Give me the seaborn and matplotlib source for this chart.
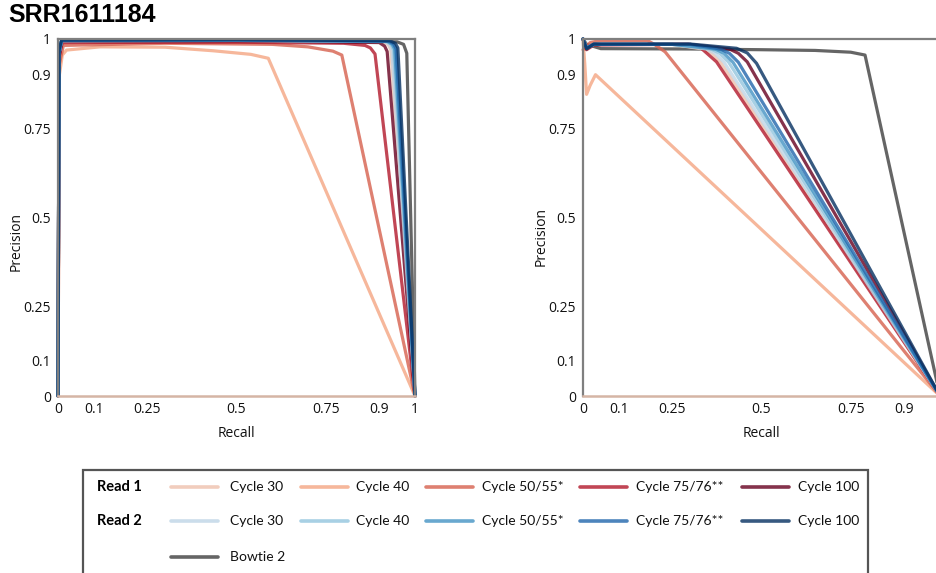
import matplotlib
matplotlib.use("Agg")
import matplotlib.pyplot as plt
from matplotlib.lines import Line2D
from matplotlib.patches import Rectangle
import seaborn as sns
import pandas as pd

sns.set_theme(style="white")
plt.rcParams["font.family"] = ["Open Sans", "DejaVu Sans"]

# ---------------- data ----------------
series_names = ["Bowtie 2",
                "R1 Cycle 30", "R1 Cycle 40", "R1 Cycle 50/55*", "R1 Cycle 75/76**", "R1 Cycle 100",
                "R2 Cycle 30", "R2 Cycle 40", "R2 Cycle 50/55*", "R2 Cycle 75/76**", "R2 Cycle 100"]
series_colors = ["#3f3f3f",
                 "#eec1ad", "#f4a582", "#d6604d", "#b2182b", "#67001f",
                 "#bfd5e6", "#92c5de", "#4393c3", "#2166ac", "#053061"]

ticks = [0, 0.1, 0.25, 0.5, 0.75, 0.9, 1]
tick_labels = ["0", "0.1", "0.25", "0.5", "0.75", "0.9", "1"]
right_x_tick_labels = ["0", "0.1", "0.25", "0.5", "0.75", "0.9", ""]

# Left panel (recall, precision)
left_bowtie_r = [0, 0.003, 0.01, 0.5, 0.95, 0.968, 0.977, 1.0]
left_bowtie_p = [0, 0.95, 0.994, 0.996, 0.992, 0.985, 0.96, 0]
left_r1c30_r = [0, 0.003, 0.01, 0.5, 0.91, 0.925, 0.932, 1.0]
left_r1c30_p = [0, 0.95, 0.993, 0.995, 0.993, 0.985, 0.97, 0]
left_r1c40_r = [0, 0.004, 0.012, 0.024, 0.118, 0.3, 0.435, 0.54, 0.589, 1.0]
left_r1c40_p = [0, 0.9, 0.955, 0.969, 0.978, 0.977, 0.967, 0.957, 0.946, 0]
left_r1c50_r = [0, 0.004, 0.015, 0.3, 0.6, 0.7, 0.77, 0.795, 1.0]
left_r1c50_p = [0, 0.93, 0.982, 0.988, 0.985, 0.978, 0.966, 0.955, 0]
left_r1c75_r = [0, 0.003, 0.012, 0.5, 0.8, 0.86, 0.875, 0.888, 1.0]
left_r1c75_p = [0, 0.95, 0.99, 0.991, 0.988, 0.982, 0.975, 0.958, 0]
left_r1c100_r = [0, 0.003, 0.01, 0.5, 0.9, 0.915, 0.922, 1.0]
left_r1c100_p = [0, 0.95, 0.993, 0.995, 0.99, 0.98, 0.965, 0]
left_r2c30_r = [0, 0.003, 0.01, 0.5, 0.915, 0.928, 0.935, 1.0]
left_r2c30_p = [0, 0.96, 0.995, 0.996, 0.993, 0.985, 0.97, 0]
left_r2c40_r = [0, 0.003, 0.01, 0.5, 0.92, 0.933, 0.94, 1.0]
left_r2c40_p = [0, 0.96, 0.995, 0.996, 0.993, 0.985, 0.97, 0]
left_r2c50_r = [0, 0.003, 0.01, 0.5, 0.923, 0.936, 0.943, 1.0]
left_r2c50_p = [0, 0.96, 0.996, 0.997, 0.993, 0.985, 0.972, 0]
left_r2c75_r = [0, 0.003, 0.01, 0.5, 0.927, 0.94, 0.947, 1.0]
left_r2c75_p = [0, 0.96, 0.996, 0.997, 0.994, 0.986, 0.973, 0]
left_r2c100_r = [0, 0.003, 0.01, 0.5, 0.93, 0.945, 0.952, 1.0]
left_r2c100_p = [0, 0.97, 0.997, 0.998, 0.995, 0.988, 0.975, 0]

# Right panel (recall, precision)
right_bowtie_r = [0, 0.01, 0.05, 0.3, 0.5, 0.65, 0.75, 0.79, 1.0]
right_bowtie_p = [1.0, 0.985, 0.973, 0.972, 0.97, 0.968, 0.963, 0.955, 0]
right_r1c30_r = [0, 0.01, 0.03, 0.25, 0.335, 0.36, 0.385, 1.0]
right_r1c30_p = [1.0, 0.975, 0.985, 0.985, 0.972, 0.96, 0.935, 0]
right_r1c40_r = [0, 0.005, 0.01, 0.02, 0.035, 1.0]
right_r1c40_p = [1.0, 0.93, 0.845, 0.87, 0.9, 0]
right_r1c50_r = [0, 0.02, 0.05, 0.18, 0.2, 0.23, 1.0]
right_r1c50_p = [0.97, 0.99, 0.996, 0.996, 0.985, 0.964, 0]
right_r1c75_r = [0, 0.01, 0.03, 0.25, 0.295, 0.33, 0.374, 1.0]
right_r1c75_p = [1.0, 0.97, 0.983, 0.985, 0.985, 0.975, 0.936, 0]
right_r1c100_r = [0, 0.01, 0.03, 0.3, 0.41, 0.435, 0.46, 1.0]
right_r1c100_p = [1.0, 0.975, 0.985, 0.985, 0.972, 0.96, 0.936, 0]
right_r2c30_r = [0, 0.01, 0.03, 0.25, 0.345, 0.37, 0.395, 1.0]
right_r2c30_p = [1.0, 0.975, 0.985, 0.985, 0.972, 0.96, 0.935, 0]
right_r2c40_r = [0, 0.01, 0.03, 0.25, 0.358, 0.383, 0.408, 1.0]
right_r2c40_p = [1.0, 0.975, 0.985, 0.985, 0.972, 0.96, 0.935, 0]
right_r2c50_r = [0, 0.01, 0.03, 0.25, 0.37, 0.395, 0.42, 1.0]
right_r2c50_p = [1.0, 0.975, 0.985, 0.985, 0.972, 0.96, 0.935, 0]
right_r2c75_r = [0, 0.01, 0.03, 0.3, 0.385, 0.41, 0.435, 1.0]
right_r2c75_p = [1.0, 0.975, 0.985, 0.985, 0.972, 0.96, 0.935, 0]
right_r2c100_r = [0, 0.01, 0.03, 0.3, 0.43, 0.46, 0.486, 1.0]
right_r2c100_p = [1.0, 0.972, 0.986, 0.986, 0.974, 0.961, 0.932, 0]

left_series = [(left_bowtie_r, left_bowtie_p), (left_r1c30_r, left_r1c30_p), (left_r1c40_r, left_r1c40_p),
               (left_r1c50_r, left_r1c50_p), (left_r1c75_r, left_r1c75_p), (left_r1c100_r, left_r1c100_p),
               (left_r2c30_r, left_r2c30_p), (left_r2c40_r, left_r2c40_p), (left_r2c50_r, left_r2c50_p),
               (left_r2c75_r, left_r2c75_p), (left_r2c100_r, left_r2c100_p)]
right_series = [(right_bowtie_r, right_bowtie_p), (right_r1c30_r, right_r1c30_p), (right_r1c40_r, right_r1c40_p),
                (right_r1c50_r, right_r1c50_p), (right_r1c75_r, right_r1c75_p), (right_r1c100_r, right_r1c100_p),
                (right_r2c30_r, right_r2c30_p), (right_r2c40_r, right_r2c40_p), (right_r2c50_r, right_r2c50_p),
                (right_r2c75_r, right_r2c75_p), (right_r2c100_r, right_r2c100_p)]


def make_df(series):
    rows = []
    for name, (rr, pp) in zip(series_names, series):
        for i, (r, p) in enumerate(zip(rr, pp)):
            rows.append({"series": name, "order": i, "recall": r, "precision": p})
    return pd.DataFrame(rows)


palette = dict(zip(series_names, series_colors))
ALPHA = 0.8
LW = 2.3

W, H = 936, 573
fig = plt.figure(figsize=(W / 100, H / 100), dpi=100)


def px_axes(x0, y_top, w, h):
    return fig.add_axes([x0 / W, 1 - (y_top + h) / H, w / W, h / H])


axL = px_axes(58, 39, 357, 357)
axR = px_axes(583, 39, 357, 357)

for ax, series, ylab_y, xlabels in [(axL, left_series, 0.432, tick_labels),
                                     (axR, right_series, 0.447, right_x_tick_labels)]:
    df = make_df(series)
    sns.lineplot(data=df, x="recall", y="precision", hue="series", hue_order=series_names,
                 palette=palette, sort=False, estimator=None, legend=False,
                 linewidth=LW, alpha=ALPHA, ax=ax)
    for ln in ax.get_lines():
        ln.set_clip_on(False)
    ax.set_xlim(0, 1)
    ax.set_ylim(0, 1)
    ax.set_xticks(ticks)
    ax.set_xticklabels(xlabels)
    ax.set_yticks(ticks)
    ax.set_yticklabels(tick_labels)
    ax.tick_params(direction="in", length=5, width=1.5, color="#707070",
                   labelsize=10, labelcolor="#111111", pad=4)
    ax.tick_params(axis="y", pad=5)
    ax.tick_params(axis="x", pad=4)
    ax.set_xlabel("Recall", fontsize=10, color="#111111")
    ax.set_ylabel("Precision", fontsize=10, color="#111111")
    ax.xaxis.set_label_coords(0.5, -0.085)
    ax.yaxis.set_label_coords(-0.095, ylab_y)
    for side in ["left", "top", "right"]:
        ax.spines[side].set_color("#7f7f7f")
        ax.spines[side].set_linewidth(1.6)
    ax.spines["bottom"].set_color("#d5b5a5")
    ax.spines["bottom"].set_linewidth(1.8)
    ax.grid(False)

fig.text(8 / W, 1 - 15 / H, "SRR1611184", fontsize=18, fontweight="bold", color="black",
         family=["Liberation Sans", "DejaVu Sans"], va="center", ha="left")

# ---------------- legend ----------------
fig.add_artist(Rectangle((83 / W, -0.05), (868 - 83) / W, (1 - 470 / H) + 0.05,
                         transform=fig.transFigure, fill=False, edgecolor="#555555",
                         linewidth=1.6))
leg_font = ["Lato", "DejaVu Sans"]
row_y = [487, 521, 557]
row_titles = ["Read 1", "Read 2"]
col_line_x = [171, 301, 426, 580, 742]
col_text_x = [230, 356, 482, 636, 798]
col_labels = ["Cycle 30", "Cycle 40", "Cycle 50/55*", "Cycle 75/76**", "Cycle 100"]

for r, title in enumerate(row_titles):
    fig.text(97 / W, 1 - row_y[r] / H, title, fontsize=10.5, fontweight="bold",
             family=leg_font, va="center", ha="left", color="black")
    for c in range(5):
        color = series_colors[1 + r * 5 + c]
        fig.add_artist(Line2D([col_line_x[c] / W, (col_line_x[c] + 47) / W],
                              [1 - row_y[r] / H] * 2, transform=fig.transFigure,
                              color=color, alpha=ALPHA, linewidth=2.6))
        fig.text(col_text_x[c] / W, 1 - row_y[r] / H, col_labels[c], fontsize=10,
                 family=leg_font, va="center", ha="left", color="#111111")

fig.add_artist(Line2D([171 / W, 218 / W], [1 - row_y[2] / H] * 2, transform=fig.transFigure,
                      color=series_colors[0], alpha=ALPHA, linewidth=2.6))
fig.text(230 / W, 1 - row_y[2] / H, "Bowtie 2", fontsize=10, family=leg_font,
         va="center", ha="left", color="#111111")

fig.savefig("out.png", dpi=100)
